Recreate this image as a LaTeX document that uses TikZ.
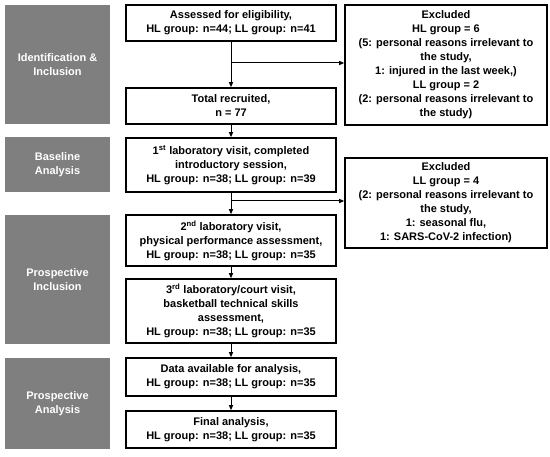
\documentclass[tikz,border=0pt]{standalone}
\usepackage{fontspec}
\setmainfont{Liberation Sans}
\usetikzlibrary{arrows.meta}
\definecolor{stagegray}{RGB}{127,127,127}
\begin{document}
\begin{tikzpicture}[x=1pt,y=-1pt,
  font=\fontsize{11}{14}\selectfont\bfseries,
  stage/.style={fill=stagegray,text=white,align=center,minimum width=105pt,inner sep=0pt},
  flowbox/.style={draw=black,line width=1.6pt,fill=white,align=center,minimum width=210pt,inner sep=0pt},
  exbox/.style={draw=black,line width=1.6pt,fill=white,align=center,minimum width=202pt,inner sep=0pt},
  arr/.style={line width=1pt,-{Triangle[length=5pt,width=4pt]}}]
\useasboundingbox[fill=white] (0,0) rectangle (550,457);
% stage boxes
\node[stage,minimum height=119pt] (g1) at (57.5,64.5) {Identification \&\\Inclusion};
\node[stage,minimum height=55pt] (g2) at (57.5,164.5) {Baseline\\Analysis};
\node[stage,minimum height=129pt] (g3) at (57.5,279.5) {Prospective\\Inclusion};
\node[stage,minimum height=91pt] (g4) at (57.5,403.5) {Prospective\\Analysis};
% main flow
\node[flowbox,minimum height=36pt] (b1) at (231,23) {Assessed for eligibility,\\HL group: n=44; LL group: n=41};
\node[flowbox,minimum height=36pt] (b2) at (231,106) {Total recruited,\\n = 77};
\node[flowbox,minimum height=54pt] (b3) at (231,165) {1\textsuperscript{st} laboratory visit, completed\\introductory session,\\HL group: n=38; LL group: n=39};
\node[flowbox,minimum height=51pt] (b4) at (231,240.5) {2\textsuperscript{nd} laboratory visit,\\physical performance assessment,\\HL group: n=38; LL group: n=35};
\node[flowbox,minimum height=64pt] (b5) at (231,311) {3\textsuperscript{rd} laboratory/court visit,\\basketball technical skills\\assessment,\\HL group: n=38; LL group: n=35};
\node[flowbox,minimum height=38pt] (b6) at (231,377) {Data available for analysis,\\HL group: n=38; LL group: n=35};
\node[flowbox,minimum height=37pt] (b7) at (231,429.5) {Final analysis,\\HL group: n=38; LL group: n=35};
% excluded
\node[exbox,minimum height=120pt] (e1) at (446,65) {Excluded\\HL group = 6\\(5: personal reasons irrelevant to\\the study,\\1: injured in the last week,)\\LL group = 2\\(2: personal reasons irrelevant to\\the study)};
\node[exbox,minimum height=90pt] (e2) at (446,203) {Excluded\\LL group = 4\\(2: personal reasons irrelevant to\\the study,\\1: seasonal flu,\\1: SARS-CoV-2 infection)};
% connectors
\draw[arr] (b1) -- (b2);
\draw[arr] (b2) -- (b3);
\draw[arr] (b3) -- (b4);
\draw[arr] (b4) -- (b5);
\draw[arr] (b5) -- (b6);
\draw[arr] (b6) -- (b7);
\coordinate (j1) at (231,63);
\coordinate (j2) at (231,201);
\draw[arr] (j1) -- (j1 -| e1.west);
\draw[arr] (j2) -- (j2 -| e2.west);
\end{tikzpicture}
\end{document}
